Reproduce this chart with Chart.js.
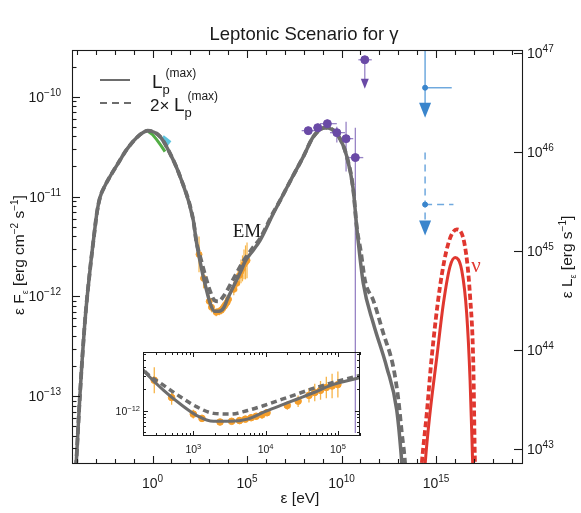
<!DOCTYPE html>
<html>
<head>
<meta charset="utf-8">
<script src="https://cdn.jsdelivr.net/npm/chart.js@4/dist/chart.umd.min.js"></script>
<style>
  html, body { margin: 0; padding: 0; background: #fff; }
  #wrap { position: relative; width: 581px; height: 513px; }
  #wrap canvas { position: absolute; left: 0; top: 0; }
  #inset { pointer-events: none; }
</style>
</head>
<body>
<div id="wrap">
  <canvas id="main" width="581" height="513"></canvas>
  <canvas id="inset" width="581" height="513"></canvas>
</div>
<script>
// all values are log10: energy in eV, flux in erg cm^-2 s^-1

// EM model, L_p(max)
const lpLogE = [-4.15, -4.05, -3.84, -3.57, -3.31, -3.10, -2.94, -2.78, -2.51, -2.25, -1.83, -1.37, -0.66, -0.25, 0.40, 0.93, 1.46, 2.16,
  2.31, 2.59, 2.82, 3.05, 3.28, 3.51, 3.75, 3.98, 4.21, 4.44, 4.67, 4.90, 5.32, 5.69, 6.39, 6.75, 7.33,
  7.98, 8.51, 9.13, 9.75, 10.28, 10.62, 10.80, 11.15, 11.68, 12.39, 12.92, 13.19, 13.25];
const lpLogF = [-14.04, -13.72, -12.99, -12.24, -11.74, -11.40, -11.16, -11.01, -10.89, -10.80, -10.67, -10.53, -10.38, -10.34, -10.40, -10.57, -10.80, -11.24,
  -11.44, -11.72, -11.91, -12.07, -12.15, -12.15, -12.12, -12.02, -11.93, -11.84, -11.75, -11.65, -11.54, -11.44, -11.17, -11.04, -10.83,
  -10.60, -10.40, -10.31, -10.37, -10.60, -10.93, -11.30, -11.87, -12.27, -12.71, -13.14, -13.67, -13.84];

// EM model, 2x L_p(max)
const lp2LogE = [-4.15, -4.05, -3.84, -3.57, -3.31, -3.10, -2.94, -2.78, -2.51, -2.25, -1.83, -1.37, -0.66, -0.25, 0.40, 0.93, 1.46, 2.16,
  2.31, 2.59, 2.82, 3.05, 3.28, 3.51, 3.75, 3.98, 4.21, 4.44, 4.67, 4.90, 5.32, 5.69, 6.39, 6.75, 7.33,
  7.98, 8.51, 9.13, 9.75, 10.28, 10.62, 10.80, 11.02, 11.25, 11.68, 12.21, 12.74, 13.01, 13.19, 13.36, 13.41];
const lp2LogF = [-14.04, -13.72, -12.99, -12.24, -11.74, -11.40, -11.16, -11.01, -10.89, -10.80, -10.67, -10.53, -10.38, -10.34, -10.40, -10.57, -10.80, -11.24,
  -11.44, -11.65, -11.81, -11.95, -12.04, -12.05, -12.00, -11.93, -11.85, -11.77, -11.69, -11.62, -11.51, -11.42, -11.16, -11.04, -10.83,
  -10.60, -10.40, -10.31, -10.37, -10.60, -10.93, -11.30, -11.55, -11.85, -12.04, -12.37, -12.71, -13.04, -13.37, -13.67, -13.84];

// neutrinos
const nuLogE = [14.34, 14.42, 14.68, 15.04, 15.39, 15.74, 16.01, 16.36, 16.62, 16.80, 16.94, 16.98];
const nuLogF = [-13.94, -13.69, -13.17, -12.61, -12.07, -11.70, -11.61, -11.74, -12.17, -12.84, -13.69, -13.94];
const nu2LogE = [14.15, 14.24, 14.51, 14.77, 15.21, 15.65, 16.10, 16.53, 16.80, 16.97, 17.06, 17.12];
const nu2LogF = [-13.94, -13.69, -13.17, -12.61, -11.90, -11.47, -11.33, -11.50, -12.00, -12.67, -13.69, -13.94];

// X-ray points (orange)
const xrtLogE = [2.46, 2.70, 3.00, 3.12, 3.37, 3.53, 3.64, 3.72, 3.80, 3.87, 3.95, 4.02, 4.30, 4.45, 4.60, 4.68, 4.76, 4.84, 4.92, 5.00];
const xrtLogF = [-11.58, -11.82, -12.05, -12.11, -12.16, -12.15, -12.14, -12.12, -12.10, -12.08, -12.06, -12.03, -11.93, -11.87, -11.79, -11.75, -11.72, -11.68, -11.66, -11.64];
const xrtErr = [0.18, 0.10, 0.06, 0.05, 0.04, 0.04, 0.04, 0.04, 0.04, 0.04, 0.05, 0.05, 0.06, 0.08, 0.10, 0.12, 0.13, 0.15, 0.17, 0.18];

// optical / UV bands
const optLogE = [-0.22, 0.0, 0.22, 0.45, 0.66];
const optLogF = [-10.35, -10.38, -10.43, -10.49, -10.55];
const uvLogE = [0.50, 0.90];
const uvLogF = [-10.41, -10.47];

// gamma-ray points (purple)
const latLogE = [8.24, 8.74, 9.25, 9.75, 10.24, 10.73];
const latLogF = [-10.34, -10.31, -10.27, -10.36, -10.42, -10.61];
const latELo = [7.89, 8.51, 8.86, 9.39, 9.83, 10.28];
const latEHi = [8.60, 8.95, 9.75, 10.19, 10.62, 11.15];
const latFLo = [-10.38, -10.35, -10.31, -10.46, -10.75, -13.37];
const latFHi = [-10.30, -10.27, -10.23, -10.30, -10.25, -10.31];
const latUlLogE = [11.23];
const latUlLogF = [-9.63];
const latUlELo = [10.89];
const latUlEHi = [11.60];
const latUlTip = [-9.92];

// neutrino upper limits (blue)
const iceLogE = [14.42, 14.42];
const iceLogF = [-9.91, -11.08];
const iceLogEHi = [15.83, 15.92];
const iceTop = [-8.5, -10.56];
const iceTip = [-10.21, -11.39];
const iceDashed = [false, true];

// axes
const xRange = [-4.26, 19.60];
const yRange = [-13.68, -9.532];
const y2Range = [42.85, 47.03];
const xLabelExps = [0, 5, 10, 15];
const yLabelExps = [-10, -11, -12, -13];
const y2LabelExps = [43, 44, 45, 46, 47];
const insetXRange = [2.304, 5.306];
const insetYRange = [-12.354, -11.1875];
const insetXLabelExps = [3, 4, 5];
const insetYLabelExps = [-12];

const GRAY = '#6d6d6d';
const RED = '#e0372f';
const PURPLE = '#6a4aa6';
const PURPLE_BAR = '#9884c6';
const BLUE = '#3a85cc';
const BLUE_BAR = '#6fa9de';
const ORANGE = '#f59e2a';
const ORANGE_BAR = '#f7b447';
const INK = '#1a1a1a';
const SANS = '"Liberation Sans", Arial, Helvetica, sans-serif';
const SERIF = '"Liberation Serif", "DejaVu Serif", serif';

const pts = (xs, ys) => xs.map((v, i) => ({ x: 10 ** v, y: 10 ** ys[i] }));
const fontOf = (size, fam) => size + 'px ' + (fam || SANS);
const expText = k => String(k).replace('-', '\u2212');

function drawRich(ctx, parts, x, y, align) {
    let w = 0;
    parts.forEach(p => { ctx.font = fontOf(p.size, p.fam); w += ctx.measureText(p.t).width; });
    let cx = align === 'center' ? x - w / 2 : align === 'right' ? x - w : x;
    ctx.textAlign = 'left';
    ctx.textBaseline = 'alphabetic';
    parts.forEach(p => {
        ctx.font = fontOf(p.size, p.fam);
        ctx.fillText(p.t, cx, y + (p.dy || 0));
        cx += ctx.measureText(p.t).width;
    });
    return w;
}

function tenTo(k, base, sup) {
    return [{ t: '10', size: base }, { t: expText(k), size: sup, dy: -Math.round(base * 0.42) }];
}

function seg(ctx, x0, y0, x1, y1) {
    ctx.beginPath();
    ctx.moveTo(x0, y0);
    ctx.lineTo(x1, y1);
    ctx.stroke();
}

function arrowDown(ctx, x, tipY, w, h, color) {
    ctx.fillStyle = color;
    ctx.beginPath();
    ctx.moveTo(x - w / 2, tipY - h);
    ctx.lineTo(x + w / 2, tipY - h);
    ctx.lineTo(x, tipY);
    ctx.closePath();
    ctx.fill();
}

const mainDecor = {
    id: 'mainDecor',
    beforeDatasetsDraw(chart) {
        const { ctx, chartArea: ca } = chart;
        const xs = chart.scales.x, ys = chart.scales.y;
        const X = v => xs.getPixelForValue(10 ** v);
        const Y = v => ys.getPixelForValue(10 ** v);
        ctx.save();
        ctx.beginPath();
        ctx.rect(ca.left, ca.top, ca.width, ca.height);
        ctx.clip();

        // orange error bars
        ctx.strokeStyle = ORANGE_BAR;
        ctx.lineWidth = 1.2;
        xrtLogE.forEach((e, i) => seg(ctx, X(e), Y(xrtLogF[i] + xrtErr[i]), X(e), Y(xrtLogF[i] - xrtErr[i])));

        // purple error bars
        ctx.strokeStyle = PURPLE_BAR;
        ctx.lineWidth = 1.3;
        latLogE.forEach((e, i) => {
            seg(ctx, X(latELo[i]), Y(latLogF[i]), X(latEHi[i]), Y(latLogF[i]));
            seg(ctx, X(e), Y(latFHi[i]), X(e), Y(latFLo[i]));
        });
        latUlLogE.forEach((e, i) => {
            seg(ctx, X(latUlELo[i]), Y(latUlLogF[i]), X(latUlEHi[i]), Y(latUlLogF[i]));
            seg(ctx, X(e), Y(latUlLogF[i]), X(e), Y(latUlTip[i]) - 9);
        });

        // blue upper limits
        ctx.strokeStyle = BLUE_BAR;
        ctx.lineWidth = 1.5;
        iceLogE.forEach((e, i) => {
            ctx.setLineDash(iceDashed[i] ? [7, 5] : []);
            seg(ctx, X(e), Y(iceLogF[i]), X(iceLogEHi[i]), Y(iceLogF[i]));
            seg(ctx, X(e), Y(iceTop[i]), X(e), Y(iceTip[i]) - 14);
        });
        ctx.setLineDash([]);
        ctx.restore();
    },
    afterDatasetsDraw(chart) {
        const { ctx } = chart;
        const xs = chart.scales.x, ys = chart.scales.y;
        const X = v => xs.getPixelForValue(10 ** v);
        const Y = v => ys.getPixelForValue(10 ** v);
        ctx.save();
        latUlLogE.forEach((e, i) => arrowDown(ctx, X(e), Y(latUlTip[i]), 8, 10, PURPLE));
        iceLogE.forEach((e, i) => arrowDown(ctx, X(e), Y(iceTip[i]), 12, 15, BLUE));
        ctx.restore();
    },
    afterDraw(chart) {
        const { ctx, chartArea: ca } = chart;
        const xs = chart.scales.x, ys = chart.scales.y, y2 = chart.scales.y2;
        ctx.save();
        ctx.strokeStyle = INK;
        ctx.fillStyle = INK;
        ctx.lineWidth = 1.1;
        ctx.strokeRect(ca.left + 0.5, ca.top + 0.5, ca.width - 1, ca.height - 1);

        // x ticks on bottom and top, pointing inwards
        for (let k = Math.ceil(xRange[0]); k <= Math.floor(xRange[1]); k++) {
            const p = Math.round(xs.getPixelForValue(10 ** k)) + 0.5;
            const len = k % 5 === 0 ? 8 : 5;
            seg(ctx, p, ca.bottom, p, ca.bottom - len);
            seg(ctx, p, ca.top, p, ca.top + len);
        }
        // left ticks with minors
        for (let k = Math.floor(yRange[0]); k <= Math.ceil(yRange[1]); k++) {
            for (let m = 1; m <= 9; m++) {
                const v = m * 10 ** k;
                if (Math.log10(v) < yRange[0] || Math.log10(v) > yRange[1]) continue;
                const p = Math.round(ys.getPixelForValue(v)) + 0.5;
                seg(ctx, ca.left, p, ca.left + (m === 1 ? 8 : 4.5), p);
            }
        }
        // right ticks
        y2LabelExps.forEach(k => {
            if (k < y2Range[0] || k > y2Range[1]) return;
            const p = Math.round(y2.getPixelForValue(10 ** k)) + 0.5;
            seg(ctx, ca.right, p, ca.right - 9, p);
        });

        // tick labels
        xLabelExps.forEach(k => drawRich(ctx, tenTo(k, 14, 10), xs.getPixelForValue(10 ** k), 488, 'center'));
        yLabelExps.forEach(k => drawRich(ctx, tenTo(k, 14, 10), 61, ys.getPixelForValue(10 ** k) + 5, 'right'));
        y2LabelExps.forEach(k => drawRich(ctx, tenTo(k, 14, 10), 527, y2.getPixelForValue(10 ** k) + 5, 'left'));

        // title and axis titles
        drawRich(ctx, [{ t: 'Leptonic Scenario for \u03b3', size: 18.5 }], 304, 40, 'center');
        drawRich(ctx, [{ t: '\u03b5 [eV]', size: 15.5 }], 300, 503, 'center');

        ctx.save();
        ctx.translate(24, 255);
        ctx.rotate(-Math.PI / 2);
        drawRich(ctx, [
            { t: '\u03b5 F', size: 15.5 }, { t: '\u03b5', size: 9, dy: 4 },
            { t: ' [erg cm', size: 15.5 }, { t: '\u22122', size: 10, dy: -6 },
            { t: ' s', size: 15.5 }, { t: '\u22121', size: 10, dy: -6 }, { t: ']', size: 15.5 }
        ], 0, 0, 'center');
        ctx.restore();

        ctx.save();
        ctx.translate(572, 257);
        ctx.rotate(-Math.PI / 2);
        drawRich(ctx, [
            { t: '\u03b5 L', size: 15.5 }, { t: '\u03b5', size: 9, dy: 4 },
            { t: ' [erg s', size: 15.5 }, { t: '\u22121', size: 10, dy: -6 }, { t: ']', size: 15.5 }
        ], 0, 0, 'center');
        ctx.restore();

        // legend
        ctx.strokeStyle = GRAY;
        ctx.lineWidth = 2;
        seg(ctx, 100, 80, 130, 80);
        ctx.setLineDash([7, 5]);
        seg(ctx, 100, 103, 131, 103);
        ctx.setLineDash([]);
        ctx.fillStyle = INK;
        let w = drawRich(ctx, [{ t: 'L', size: 19 }], 152, 88, 'left');
        drawRich(ctx, [{ t: 'p', size: 13 }], 152 + w, 94, 'left');
        drawRich(ctx, [{ t: '(max)', size: 12 }], 152 + w + 3, 77, 'left');
        const w2 = drawRich(ctx, [{ t: '2\u00d7', size: 17 }], 150, 111, 'left');
        const lx = 150 + w2 + 4.5;
        w = drawRich(ctx, [{ t: 'L', size: 19 }], lx, 111, 'left');
        drawRich(ctx, [{ t: 'p', size: 13 }], lx + w, 117, 'left');
        drawRich(ctx, [{ t: '(max)', size: 12 }], lx + w + 3, 100, 'left');

        // curve labels
        drawRich(ctx, [{ t: 'EM', size: 19, fam: SERIF }], 247, 237, 'center');
        ctx.fillStyle = RED;
        drawRich(ctx, [{ t: '\u03bd', size: 21, fam: SERIF }], 476, 272, 'center');
        ctx.restore();
    }
};

new Chart(document.getElementById('main'), {
    type: 'scatter',
    data: {
        datasets: [
            { label: 'LAT', data: pts(latLogE, latLogF), pointRadius: 4, pointBackgroundColor: PURPLE, pointBorderColor: PURPLE, order: 0 },
            { label: 'LAT UL', data: pts(latUlLogE, latUlLogF), pointRadius: 4, pointBackgroundColor: PURPLE, pointBorderColor: PURPLE, order: 0 },
            { label: 'IceCube UL', data: pts(iceLogE, iceLogF), pointRadius: 2.5, pointBackgroundColor: BLUE, pointBorderColor: BLUE, order: 0 },
            { label: 'L_p(max)', data: pts(lpLogE, lpLogF), showLine: true, borderColor: GRAY, borderWidth: 3.5, pointRadius: 0, cubicInterpolationMode: 'monotone', clip: 0, order: 1 },
            { label: '2x L_p(max)', data: pts(lp2LogE, lp2LogF), showLine: true, borderColor: GRAY, borderWidth: 3.8, borderDash: [7, 4], pointRadius: 0, cubicInterpolationMode: 'monotone', clip: 0, order: 2 },
            { label: 'nu', data: pts(nuLogE, nuLogF), showLine: true, borderColor: RED, borderWidth: 3, pointRadius: 0, cubicInterpolationMode: 'monotone', clip: 0, order: 3 },
            { label: 'nu 2x', data: pts(nu2LogE, nu2LogF), showLine: true, borderColor: RED, borderWidth: 3.8, borderDash: [6, 3], pointRadius: 0, cubicInterpolationMode: 'monotone', clip: 0, order: 3 },
            { label: 'XRT', data: pts(xrtLogE, xrtLogF), pointRadius: 3, pointBackgroundColor: ORANGE, pointBorderColor: ORANGE, order: 5 },
            { label: 'optical', data: pts(optLogE, optLogF), showLine: true, borderColor: '#52ad45', borderWidth: 3, pointRadius: 0, order: 5 },
            { label: 'UV', data: pts(uvLogE, uvLogF), showLine: true, borderColor: '#5ec4de', borderWidth: 6, pointRadius: 0, order: 6 }
        ]
    },
    options: {
        responsive: false,
        animation: false,
        events: [],
        layout: { padding: { left: 72, right: 58, top: 50, bottom: 49 } },
        plugins: { legend: { display: false }, tooltip: { enabled: false }, title: { display: false } },
        scales: {
            x: { type: 'logarithmic', display: false, min: 10 ** xRange[0], max: 10 ** xRange[1] },
            y: { type: 'logarithmic', display: false, min: 10 ** yRange[0], max: 10 ** yRange[1] },
            y2: { type: 'logarithmic', display: false, position: 'right', min: 10 ** y2Range[0], max: 10 ** y2Range[1] }
        }
    },
    plugins: [mainDecor]
});

const insetDecor = {
    id: 'insetDecor',
    beforeDatasetsDraw(chart) {
        const { ctx, chartArea: ca } = chart;
        const xs = chart.scales.x, ys = chart.scales.y;
        ctx.save();
        ctx.beginPath();
        ctx.rect(ca.left, ca.top, ca.width, ca.height);
        ctx.clip();
        ctx.strokeStyle = ORANGE_BAR;
        ctx.lineWidth = 1.3;
        xrtLogE.forEach((e, i) => {
            const p = xs.getPixelForValue(10 ** e);
            seg(ctx, p, ys.getPixelForValue(10 ** (xrtLogF[i] + xrtErr[i])), p, ys.getPixelForValue(10 ** (xrtLogF[i] - xrtErr[i])));
        });
        ctx.restore();
    },
    afterDraw(chart) {
        const { ctx, chartArea: ca } = chart;
        const xs = chart.scales.x, ys = chart.scales.y;
        ctx.save();
        ctx.strokeStyle = INK;
        ctx.fillStyle = INK;
        ctx.lineWidth = 1;
        ctx.strokeRect(ca.left + 0.5, ca.top + 0.5, ca.width - 1, ca.height - 1);
        for (let k = Math.floor(insetXRange[0]); k <= Math.ceil(insetXRange[1]); k++) {
            for (let m = 1; m <= 9; m++) {
                const lv = Math.log10(m * 10 ** k);
                if (lv < insetXRange[0] || lv > insetXRange[1]) continue;
                const p = Math.round(xs.getPixelForValue(10 ** lv)) + 0.5;
                const len = m === 1 ? 5 : 3;
                seg(ctx, p, ca.bottom, p, ca.bottom - len);
                seg(ctx, p, ca.top, p, ca.top + len);
            }
        }
        for (let k = Math.floor(insetYRange[0]); k <= Math.ceil(insetYRange[1]); k++) {
            for (let m = 1; m <= 9; m++) {
                const lv = Math.log10(m * 10 ** k);
                if (lv < insetYRange[0] || lv > insetYRange[1]) continue;
                const p = Math.round(ys.getPixelForValue(10 ** lv)) + 0.5;
                const len = m === 1 ? 5 : 3;
                seg(ctx, ca.left, p, ca.left + len, p);
                seg(ctx, ca.right, p, ca.right - len, p);
            }
        }
        insetXLabelExps.forEach(k => drawRich(ctx, tenTo(k, 10.5, 7.5), xs.getPixelForValue(10 ** k), 453, 'center'));
        insetYLabelExps.forEach(k => drawRich(ctx, tenTo(k, 10.5, 7.5), 140, ys.getPixelForValue(10 ** k) + 4, 'right'));
        ctx.restore();
    }
};

new Chart(document.getElementById('inset'), {
    type: 'scatter',
    data: {
        datasets: [
            { label: 'L_p(max)', data: pts(lpLogE, lpLogF), showLine: true, borderColor: GRAY, borderWidth: 3, pointRadius: 0, cubicInterpolationMode: 'monotone', clip: 0, order: 1 },
            { label: '2x L_p(max)', data: pts(lp2LogE, lp2LogF), showLine: true, borderColor: GRAY, borderWidth: 3.5, borderDash: [6, 4], pointRadius: 0, cubicInterpolationMode: 'monotone', clip: 0, order: 2 },
            { label: 'XRT', data: pts(xrtLogE, xrtLogF), pointRadius: 3.3, pointBackgroundColor: ORANGE, pointBorderColor: ORANGE, clip: 0, order: 5 }
        ]
    },
    options: {
        responsive: false,
        animation: false,
        events: [],
        layout: { padding: { left: 143, right: 221, top: 352, bottom: 77 } },
        plugins: { legend: { display: false }, tooltip: { enabled: false }, title: { display: false } },
        scales: {
            x: { type: 'logarithmic', display: false, min: 10 ** insetXRange[0], max: 10 ** insetXRange[1] },
            y: { type: 'logarithmic', display: false, min: 10 ** insetYRange[0], max: 10 ** insetYRange[1] }
        }
    },
    plugins: [insetDecor]
});
</script>
</body>
</html>
